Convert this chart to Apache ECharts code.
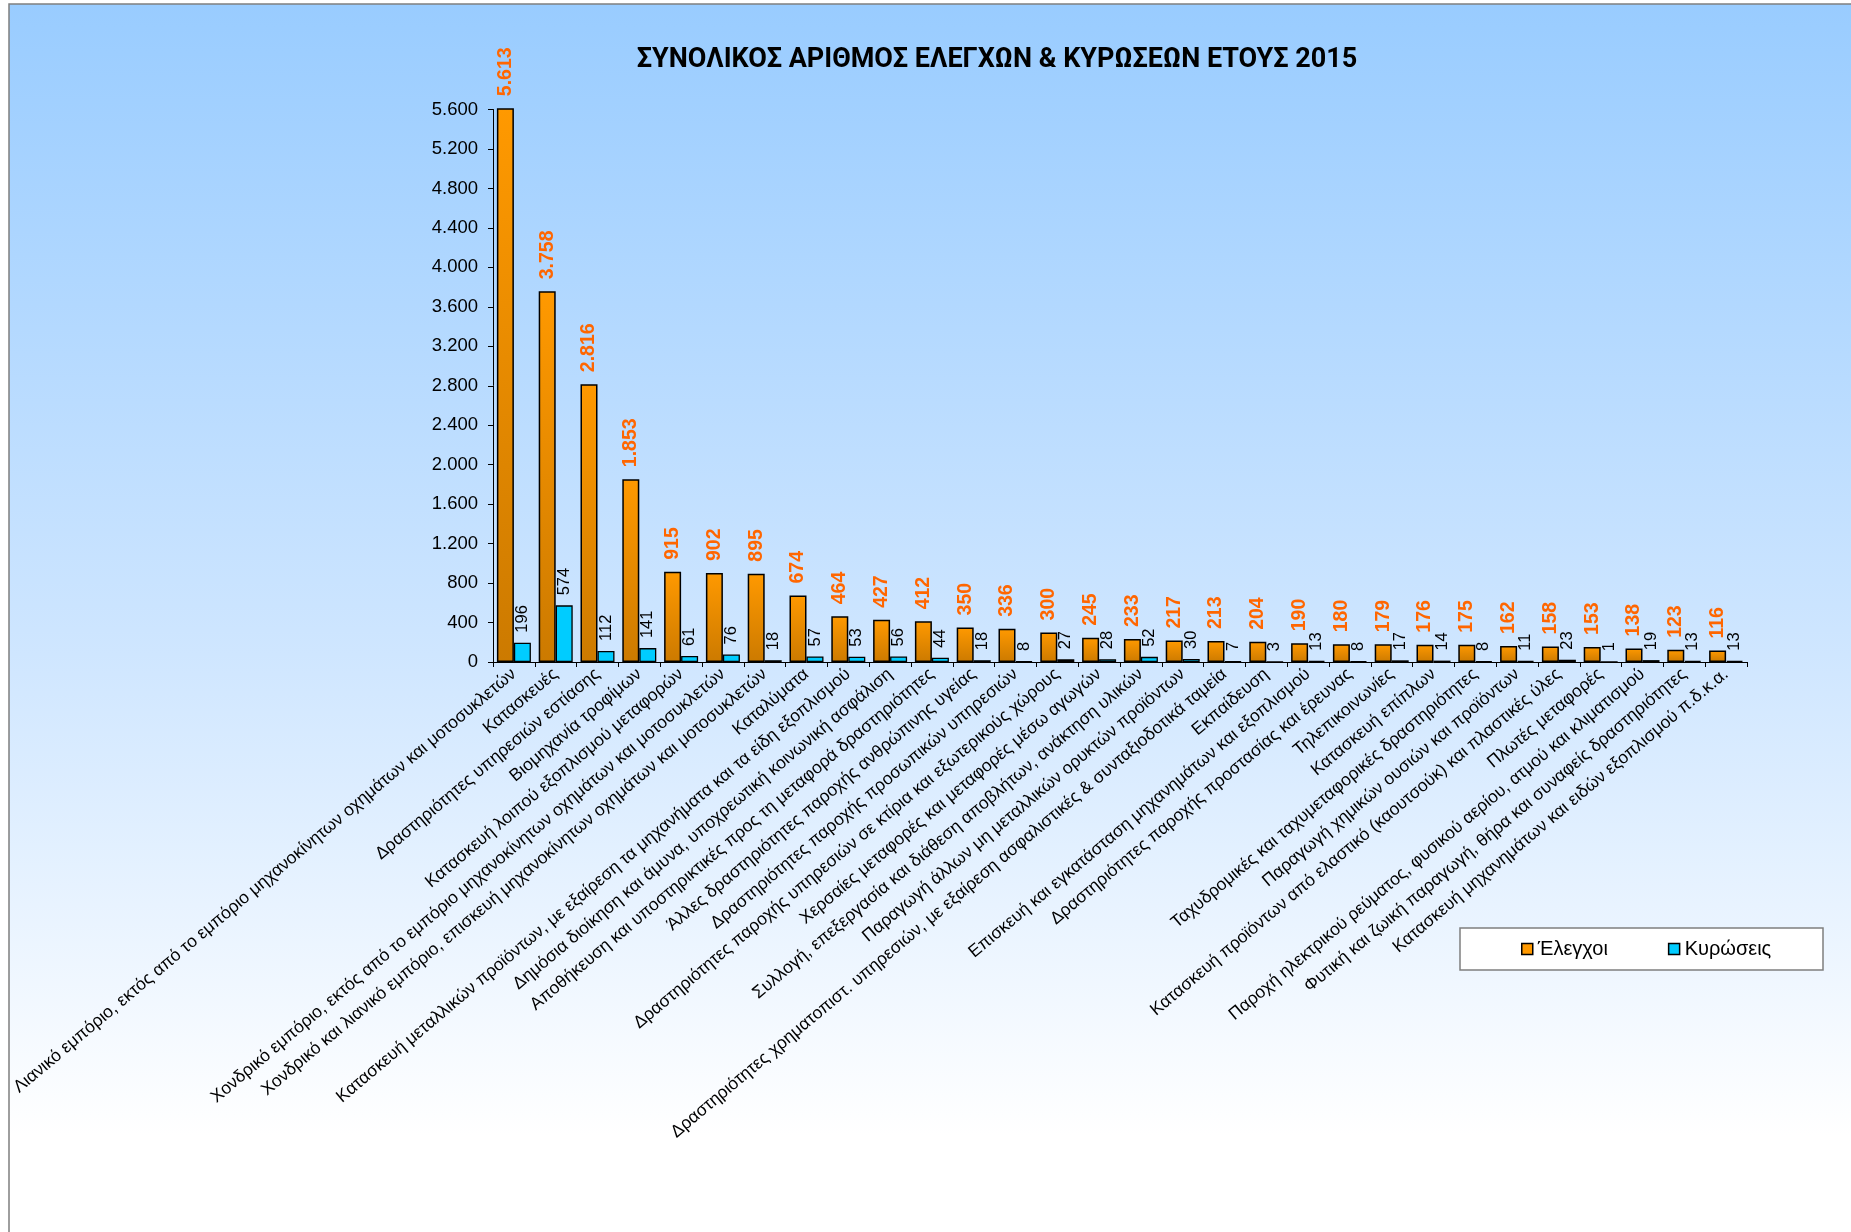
<!DOCTYPE html>
<html>
<head>
<meta charset="utf-8">
<script src="https://cdn.jsdelivr.net/npm/echarts@6/dist/echarts.min.js"></script>
<style>
html,body{margin:0;padding:0;background:#fff;}
#chart{width:1851px;height:1232px;}
</style>
</head>
<body>
<div id="chart"></div>
<script>
var titleText = 'ΣΥΝΟΛΙΚΟΣ ΑΡΙΘΜΟΣ ΕΛΕΓΧΩΝ & ΚΥΡΩΣΕΩΝ ΕΤΟΥΣ 2015';
var categories = [
  'Λιανικό εμπόριο, εκτός από το εμπόριο μηχανοκίνητων οχημάτων και μοτοσυκλετών',
  'Κατασκευές',
  'Δραστηριότητες υπηρεσιών εστίασης',
  'Βιομηχανία τροφίμων',
  'Κατασκευή λοιπού εξοπλισμού μεταφορών',
  'Χονδρικό εμπόριο, εκτός από το εμπόριο μηχανοκίνητων οχημάτων και μοτοσυκλετών',
  'Χονδρικό και λιανικό εμπόριο, επισκευή μηχανοκίνητων οχημάτων και μοτοσυκλετών',
  'Καταλύματα',
  'Κατασκευή μεταλλικών προϊόντων, με εξαίρεση τα μηχανήματα και τα είδη εξοπλισμού',
  'Δημόσια διοίκηση και άμυνα, υποχρεωτική κοινωνική ασφάλιση',
  'Αποθήκευση και υποστηρικτικές προς τη μεταφορά δραστηριότητες',
  'Άλλες δραστηριότητες παροχής ανθρώπινης υγείας',
  'Δραστηριότητες παροχής προσωπικών υπηρεσιών',
  'Δραστηριότητες παροχής υπηρεσιών σε κτίρια και εξωτερικούς χώρους',
  'Χερσαίες μεταφορές και μεταφορές μέσω αγωγών',
  'Συλλογή, επεξεργασία και διάθεση αποβλήτων, ανάκτηση υλικών',
  'Παραγωγή άλλων μη μεταλλικών ορυκτών προϊόντων',
  'Δραστηριότητες χρηματοπιστ. υπηρεσιών, με εξαίρεση ασφαλιστικές & συνταξιοδοτικά ταμεία',
  'Εκπαίδευση',
  'Επισκευή και εγκατάσταση μηχανημάτων και εξοπλισμού',
  'Δραστηριότητες παροχής προστασίας και έρευνας',
  'Τηλεπικοινωνίες',
  'Κατασκευή επίπλων',
  'Ταχυδρομικές και ταχυμεταφορικές δραστηριότητες',
  'Παραγωγή χημικών ουσιών και προϊόντων',
  'Κατασκευή προϊόντων από ελαστικό (καουτσούκ) και πλαστικές ύλες',
  'Πλωτές μεταφορές',
  'Παροχή ηλεκτρικού ρεύματος, φυσικού αερίου, ατμού και κλιματισμού',
  'Φυτική και ζωική παραγωγή, θήρα και συναφείς δραστηριότητες',
  'Κατασκευή μηχανημάτων και ειδών εξοπλισμού π.δ.κ.α.'
];
var seriesNames = ['Έλεγχοι', 'Κυρώσεις'];
var elegxoi = [5613, 3758, 2816, 1853, 915, 902, 895, 674, 464, 427, 412, 350, 336, 300, 245, 233, 217, 213, 204, 190, 180, 179, 176, 175, 162, 158, 153, 138, 123, 116];
var kyroseis = [196, 574, 112, 141, 61, 76, 18, 57, 53, 56, 44, 18, 8, 27, 28, 52, 30, 7, 3, 13, 8, 17, 14, 8, 11, 23, 1, 19, 13, 13];
var yMin = 0, yMax = 5600, yStep = 400;

function fmt(v) {
  return String(v).replace(/\B(?=(\d{3})+(?!\d))/g, '.');
}

var chart = echarts.init(document.getElementById('chart'), null, {renderer: 'canvas'});
var FONT = 'Liberation Sans, Arial, sans-serif';

chart.setOption({
  animation: false,
  textStyle: {fontFamily: FONT},
  graphic: [
    {
      type: 'rect', z: -10, silent: true,
      shape: {x: 9, y: 4, width: 1900, height: 1300},
      style: {
        fill: new echarts.graphic.LinearGradient(0, 0, 0, 1, [
          {offset: 0, color: '#99CCFF'},
          {offset: 0.5, color: '#CFE6FF'},
          {offset: 0.87, color: '#FFFFFF'},
          {offset: 1, color: '#FFFFFF'}
        ]),
        stroke: '#7F7F7F', lineWidth: 1.5
      }
    },
    {
      type: 'text', z: 10, silent: true,
      x: 997, y: 60,
      style: {
        text: titleText,
        fill: '#000',
        font: 'bold 27px "Liberation Sans Narrow", "Roboto", sans-serif',
        textAlign: 'center', textVerticalAlign: 'middle'
      }
    },
    {
      type: 'rect', z: 3, silent: true,
      shape: {x: 1460, y: 928, width: 363, height: 42},
      style: {fill: '#FFFFFF', stroke: '#7F7F7F', lineWidth: 1.5}
    }
  ],
  legend: {
    left: 1521, top: 939, padding: 0,
    itemWidth: 11, itemHeight: 11, itemGap: 60,
    icon: 'rect', z: 5,
    textStyle: {fontSize: 20, color: '#000', fontFamily: FONT},
    data: [
      {name: seriesNames[0], itemStyle: {color: '#FF9900', borderColor: '#000', borderWidth: 1.5}},
      {name: seriesNames[1], itemStyle: {color: '#00CCFF', borderColor: '#000', borderWidth: 1.5}}
    ]
  },
  grid: {left: 493, right: 104, top: 109.5, height: 552.5, containLabel: false},
  xAxis: {
    type: 'category',
    data: categories,
    axisLine: {show: true, lineStyle: {color: '#000', width: 1}},
    axisTick: {show: true, length: 5, lineStyle: {color: '#000'}},
    axisLabel: {
      interval: 0, rotate: 40, margin: 10,
      fontSize: 17.5, color: '#000', fontFamily: FONT
    }
  },
  yAxis: {
    type: 'value',
    min: yMin, max: yMax, interval: yStep,
    splitLine: {show: false},
    axisLine: {show: true, lineStyle: {color: '#000', width: 1}},
    axisTick: {show: true, length: 5, lineStyle: {color: '#000'}},
    axisLabel: {
      fontSize: 18.5, color: '#000', margin: 15, fontFamily: FONT,
      formatter: function (v) { return fmt(v); }
    }
  },
  series: [
    {
      name: seriesNames[0], type: 'bar', data: elegxoi,
      barWidth: 17, barGap: '0%', clip: false,
      itemStyle: {
        color: new echarts.graphic.LinearGradient(0, 0, 0, 1, [
          {offset: 0, color: '#FF9900'},
          {offset: 1, color: '#CC7A00'}
        ]),
        borderColor: '#000', borderWidth: 1.5
      },
      label: {
        show: true, position: 'top', rotate: 90, distance: 12,
        align: 'left', verticalAlign: 'middle',
        color: '#FF6600', fontWeight: 'bold', fontSize: 19.5, fontFamily: FONT,
        formatter: function (p) { return fmt(p.value); }
      }
    },
    {
      name: seriesNames[1], type: 'bar', data: kyroseis,
      barWidth: 17, clip: false,
      itemStyle: {color: '#00CCFF', borderColor: '#000', borderWidth: 1.3},
      label: {
        show: true, position: 'top', rotate: 90, distance: 10,
        align: 'left', verticalAlign: 'middle',
        color: '#000', fontSize: 16.5, fontFamily: FONT,
        formatter: function (p) { return fmt(p.value); }
      }
    }
  ]
});
</script>
</body>
</html>
